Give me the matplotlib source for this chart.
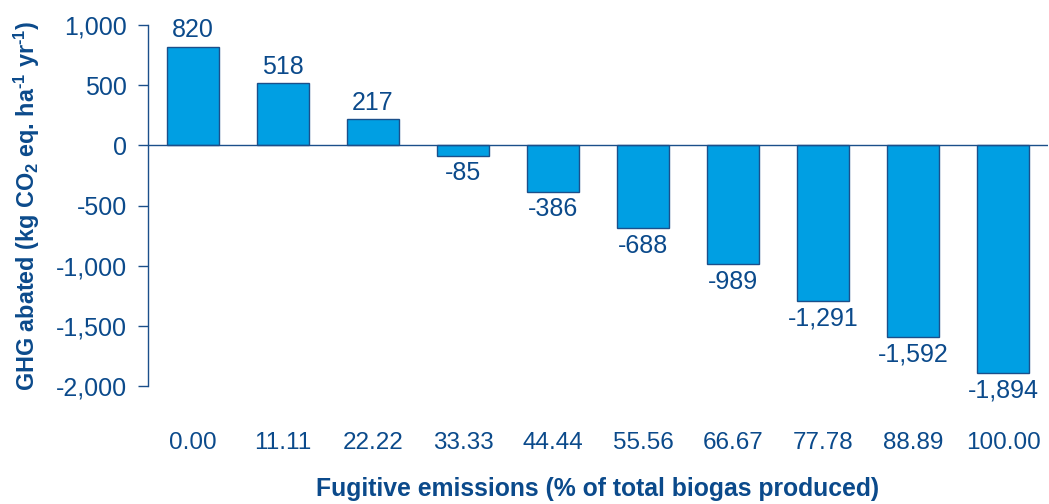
import matplotlib
matplotlib.use("Agg")
import matplotlib.pyplot as plt
from matplotlib.ticker import FuncFormatter

# Fugitive emission scenarios and the resulting GHG abatement
categories = ["0.00", "11.11", "22.22", "33.33", "44.44",
              "55.56", "66.67", "77.78", "88.89", "100.00"]
abated = [820, 518, 217, -85, -386, -688, -989, -1291, -1592, -1894]
y_ticks = [1000, 500, 0, -500, -1000, -1500, -2000]

text_color = "#0B4A8B"
bar_color = "#009FE3"
edge_color = "#1B4F8A"

plt.rcParams["font.family"] = ["Liberation Sans", "DejaVu Sans"]
plt.rcParams["mathtext.fontset"] = "custom"
plt.rcParams["mathtext.rm"] = "Liberation Sans:bold"
plt.rcParams["mathtext.bf"] = "Liberation Sans:bold"
plt.rcParams["mathtext.default"] = "bf"

fig = plt.figure(figsize=(10.49, 5.04), dpi=100)
ax = fig.add_axes([148 / 1049, 1 - 386 / 504, 900 / 1049, 361 / 504])

x = range(len(categories))
bars = ax.bar(x, abated, width=0.58, color=bar_color,
              edgecolor=edge_color, linewidth=1.0, zorder=2)

for xi, v in zip(x, abated):
    label = f"{v:,}"
    if v >= 0:
        ax.annotate(label, (xi, v), xytext=(0, 3), textcoords="offset points",
                    ha="center", va="bottom", fontsize=18, color=text_color)
    else:
        ax.annotate(label, (xi, v), xytext=(0, -4), textcoords="offset points",
                    ha="center", va="top", fontsize=18, color=text_color)

ax.axhline(0, color=edge_color, linewidth=1.0, zorder=3)

ax.set_xlim(-0.5, len(categories) - 0.5)
ax.set_ylim(-2000, 1000)
ax.set_yticks(y_ticks)
ax.yaxis.set_major_formatter(FuncFormatter(lambda v, p: f"{int(v):,}"))
ax.set_xticks(list(x))
ax.set_xticklabels(categories)

ax.tick_params(axis="x", length=0, pad=33, labelsize=17.5, labelcolor=text_color)
ax.tick_params(axis="y", length=7, width=1.0, color=edge_color,
               labelsize=18, labelcolor=text_color, pad=8)

for side in ("top", "right", "bottom"):
    ax.spines[side].set_visible(False)
ax.spines["left"].set_color(edge_color)
ax.spines["left"].set_linewidth(1.0)

ax.set_ylabel(r"GHG abated (kg CO$_2$ eq. ha$^{\text{-}1}$ yr$^{\text{-}1}$)",
              fontsize=16.8, fontweight="bold", color=text_color, labelpad=10)
ax.set_xlabel("Fugitive emissions (% of total biogas produced)",
              fontsize=17.8, fontweight="bold", color=text_color, labelpad=17)

fig.savefig("out.png", dpi=100)
